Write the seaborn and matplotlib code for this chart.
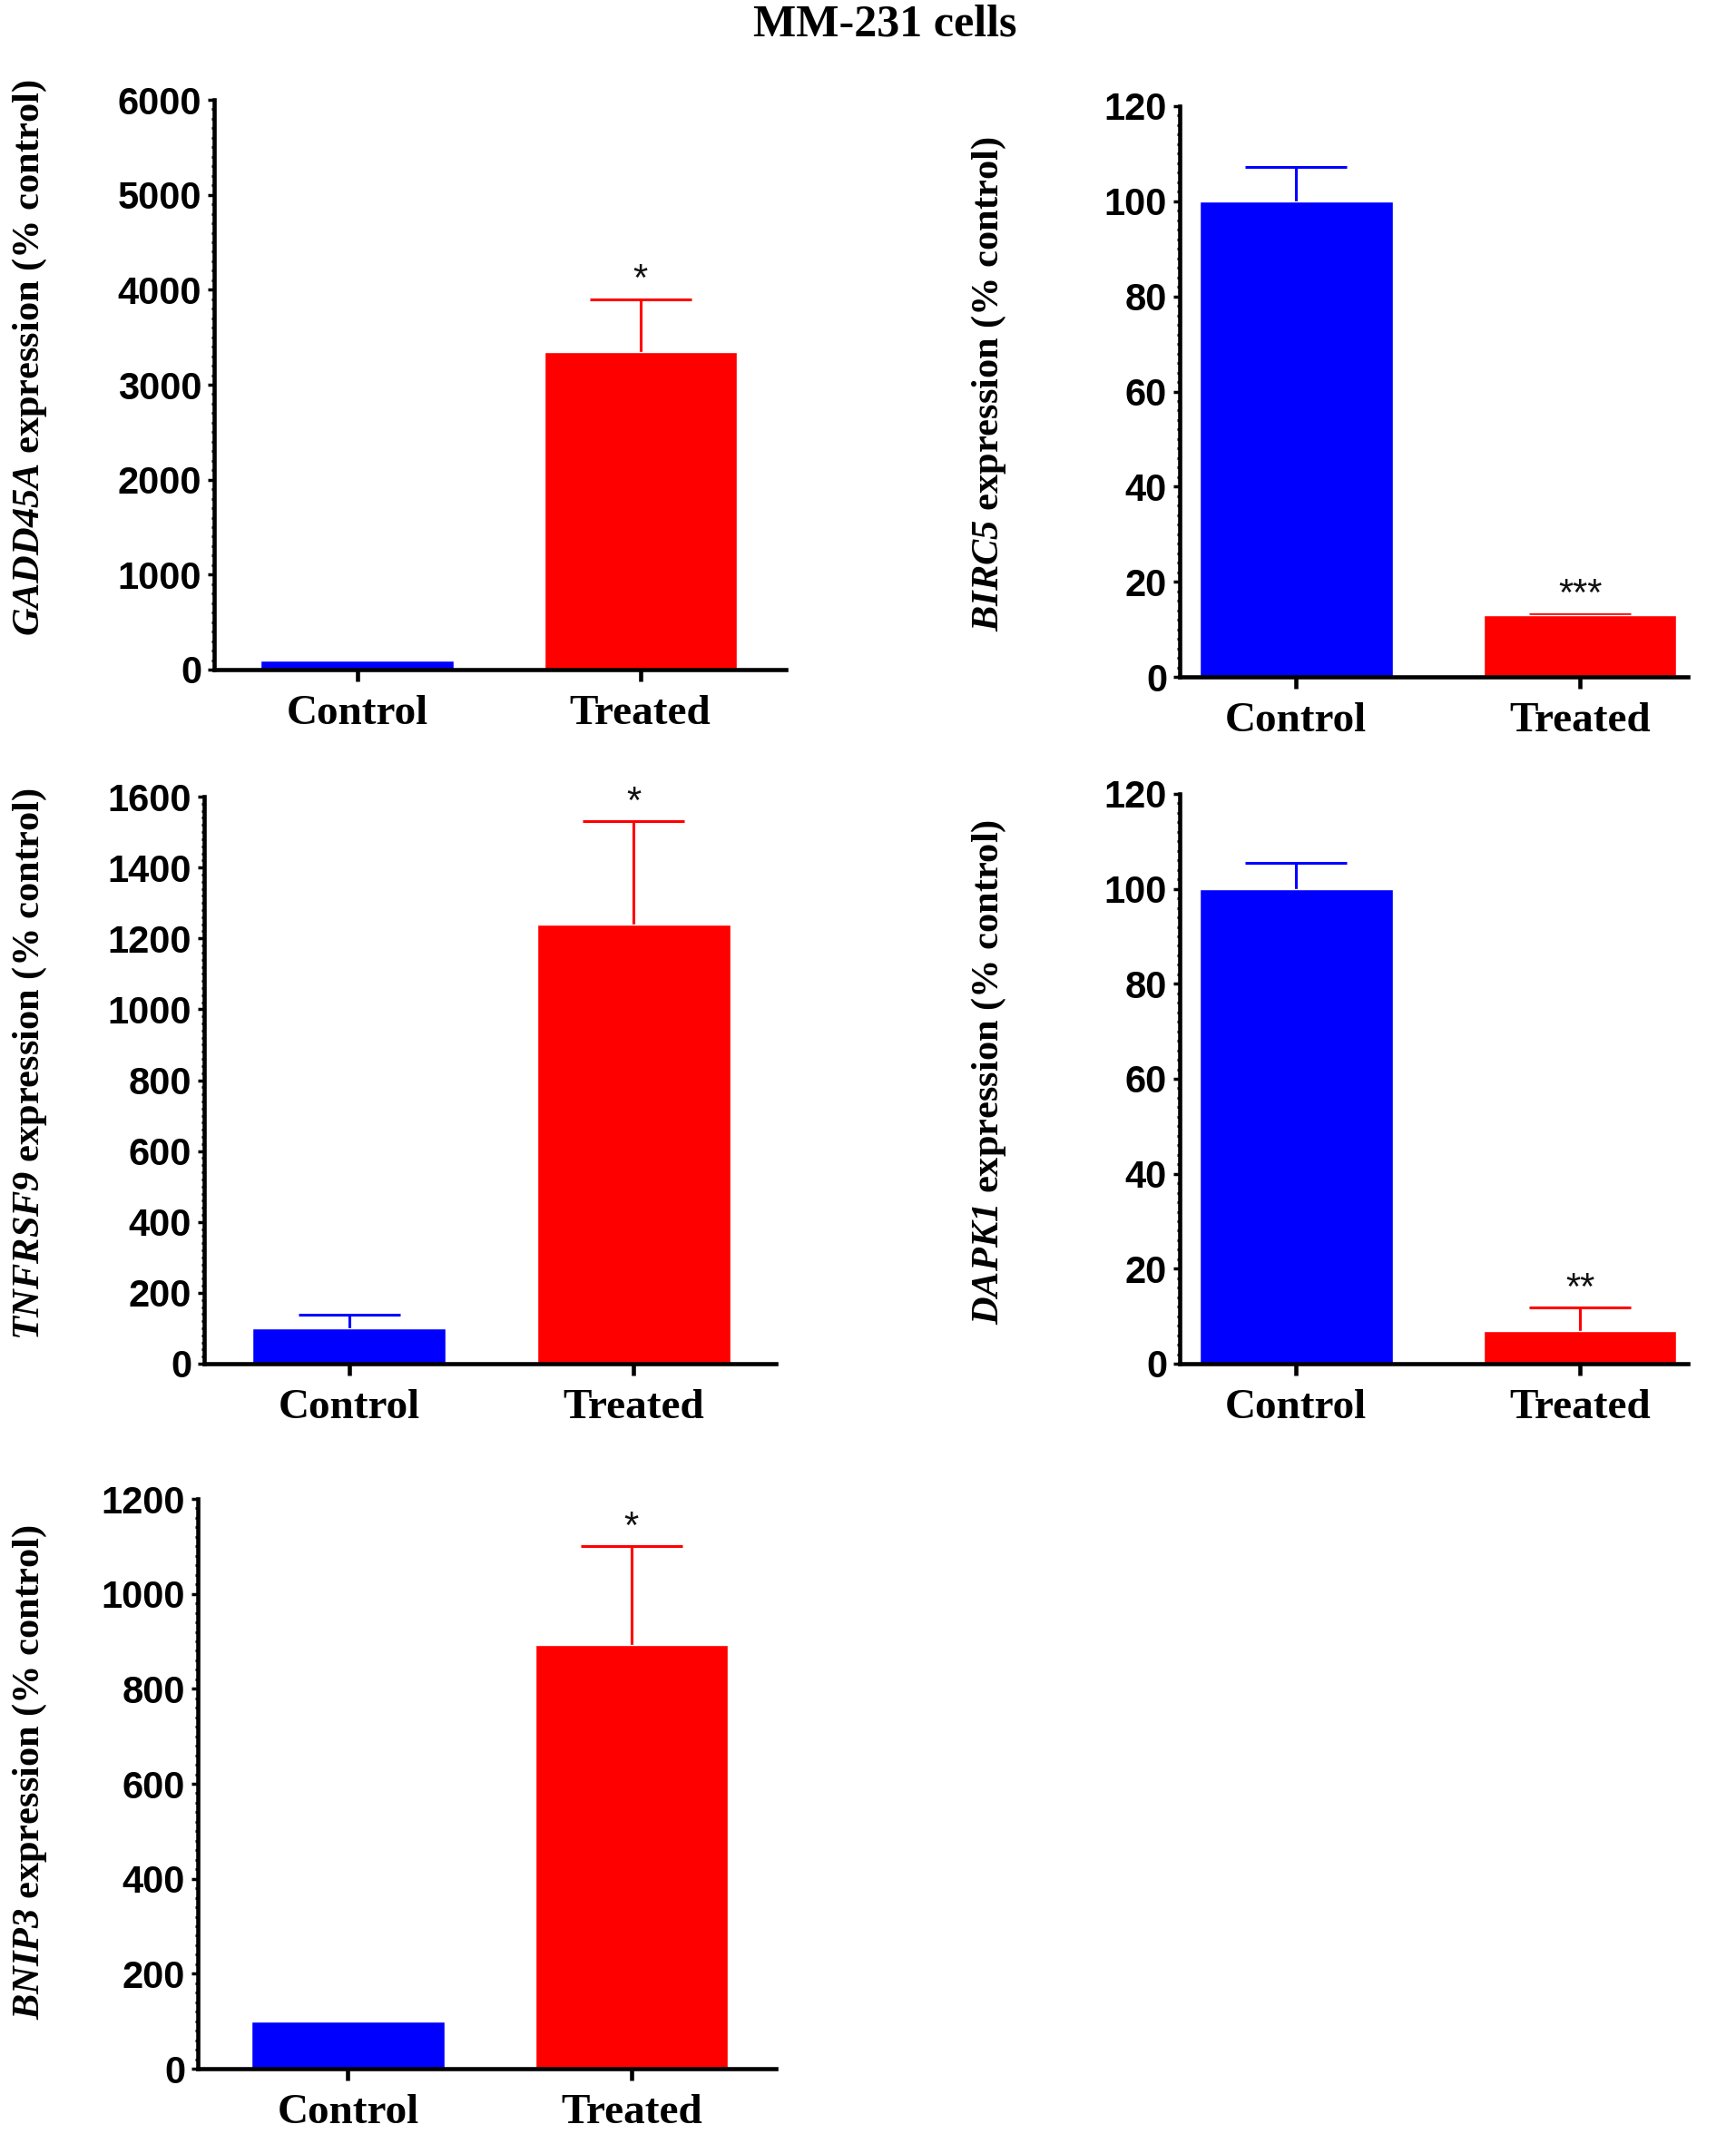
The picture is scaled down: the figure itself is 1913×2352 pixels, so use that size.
"""
MM-231 cells: relative gene expression, control vs treated.
"""

import matplotlib
matplotlib.use("Agg")
import matplotlib.pyplot as plt
from matplotlib.ticker import MultipleLocator
import seaborn as sns
import pandas as pd

sns.set_style("white")
plt.rcParams['font.family'] = ['Liberation Sans', 'DejaVu Sans']
plt.rcParams['text.color'] = 'black'
plt.rcParams['axes.labelcolor'] = 'black'
plt.rcParams['xtick.color'] = 'black'
plt.rcParams['ytick.color'] = 'black'
# gene names: bold italic serif, digits included
plt.rcParams['mathtext.fontset'] = 'custom'
plt.rcParams['mathtext.it'] = 'Liberation Serif:italic:bold'
plt.rcParams['mathtext.rm'] = 'Liberation Serif:italic:bold'
plt.rcParams['mathtext.bf'] = 'Liberation Serif:italic:bold'

# ---- data ----
groups = ["Control", "Treated"]
genes = ["GADD45A", "BIRC5", "TNFRSF9", "DAPK1", "BNIP3"]

gadd45a_mean = [100, 3340]
gadd45a_err = [0, 560]
birc5_mean = [100, 12.9]
birc5_err = [7.2, 0.3]
tnfrsf9_mean = [100, 1240]
tnfrsf9_err = [38, 290]
dapk1_mean = [100, 6.9]
dapk1_err = [5.5, 4.9]
bnip3_mean = [100, 893]
bnip3_err = [0, 207]

significance = ["*", "***", "*", "**", "*"]
y_max = [6000, 120, 1600, 120, 1200]
y_step = [1000, 20, 200, 20, 200]

means = [gadd45a_mean, birc5_mean, tnfrsf9_mean, dapk1_mean, bnip3_mean]
errs = [gadd45a_err, birc5_err, tnfrsf9_err, dapk1_err, bnip3_err]

colors = ["#0000FF", "#FF0000"]

# ---- layout in pixels (figure is 1913 x 2352) ----
W, H = 1913, 2352
# left, top, right, bottom
boxes = [
    (236, 110, 866, 738),
    (1300, 117, 1860, 746),
    (225, 878, 855, 1503),
    (1300, 875, 1860, 1503),
    (218, 1652, 855, 2280),
]
xlims = [(-0.505, 1.514), (-0.41, 1.38), (-0.51, 1.50), (-0.41, 1.38), (-0.53, 1.51)]
# y label centre (x px, y px)
label_pos = [(33, 394), (1090, 423), (33, 1173), (1090, 1181), (33, 1953)]

fig = plt.figure(figsize=(W / 100, H / 100), dpi=100)

for i, gene in enumerate(genes):
    l, t, r, b = boxes[i]
    ax = fig.add_axes([l / W, 1 - b / H, (r - l) / W, (b - t) / H])

    df = pd.DataFrame({"group": groups, "value": means[i]})
    sns.barplot(data=df, x="group", y="value", hue="group", palette=colors,
                saturation=1, errorbar=None, width=0.68, legend=False, ax=ax)

    # upper-only error bars (SEM)
    for j in range(len(groups)):
        if errs[i][j] > 0:
            eb = ax.errorbar(j, means[i][j], yerr=[[0], [errs[i][j]]],
                             fmt='none', ecolor=colors[j], elinewidth=2.2,
                             capsize=40, capthick=2.2, zorder=0.5)
            eb[1][0].set_visible(False)  # hide the lower cap

    top = means[i][1] + errs[i][1]
    ax.annotate(significance[i], xy=(1, top), xytext=(0, 7),
                textcoords='offset points', ha='center', va='baseline',
                fontsize=30, color='#111111', family='Liberation Sans')

    ax.set_xlim(*xlims[i])
    ax.set_ylim(0, y_max[i])
    ax.yaxis.set_major_locator(MultipleLocator(y_step[i]))
    ax.yaxis.set_minor_locator(MultipleLocator(y_step[i] / 10))

    sns.despine(ax=ax)
    for side in ["left", "bottom"]:
        ax.spines[side].set_linewidth(3.3)
        ax.spines[side].set_color("black")

    ax.tick_params(axis='y', which='major', direction='out', length=5,
                   width=2.5, pad=5, left=True, labelsize=30)
    ax.tick_params(axis='y', which='minor', direction='out', length=2.5,
                   width=2, left=True)
    ax.tick_params(axis='x', which='major', direction='out', length=9,
                   width=3.3, pad=11, bottom=True)
    for lab in ax.get_yticklabels():
        lab.set_fontweight('bold')
        lab.set_family('Liberation Sans')
    for lab in ax.get_xticklabels():
        lab.set_fontweight('bold')
        lab.set_family('Liberation Serif')
        lab.set_fontsize(34)

    ax.set_xlabel("")
    ax.set_ylabel("")
    lx, ly = label_pos[i]
    fig.text(lx / W, 1 - ly / H,
             "$" + gene + "$" + " expression (% control)",
             rotation=90, ha='center', va='center', fontsize=30.5,
             fontweight='bold', family='Liberation Serif')

fig.text(975 / W, 1 - 27 / H, "MM-231 cells", ha='center', va='center',
         fontsize=36, fontweight='bold', family='Liberation Serif')

fig.savefig("out.png", dpi=100)
